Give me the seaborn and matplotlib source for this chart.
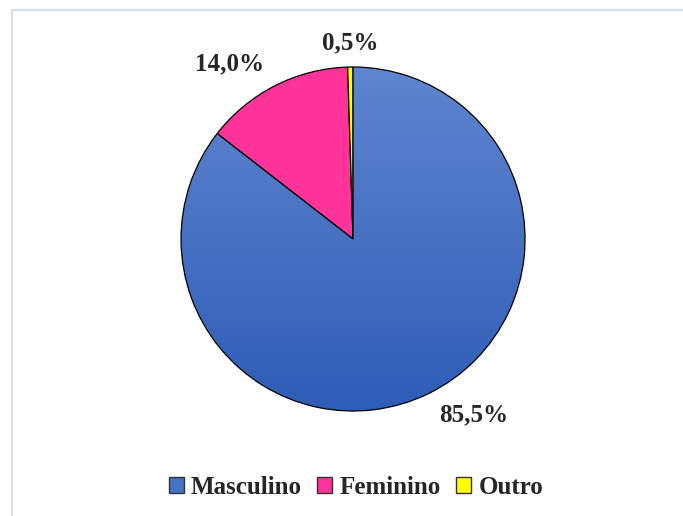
import numpy as np
import matplotlib
matplotlib.use("Agg")
import matplotlib.pyplot as plt
from matplotlib.lines import Line2D
from matplotlib.colors import LinearSegmentedColormap
import seaborn as sns

# data
categories = ["Masculino", "Feminino", "Outro"]
shares = [85.5, 14.0, 0.5]
labels = ["85,5%", "14,0%", "0,5%"]
colors = ["#4472C4", "#FF3399", "#FFFF00"]

sns.set_theme(style="white")
plt.rcParams["font.family"] = ["Liberation Serif", "DejaVu Serif"]

fig = plt.figure(figsize=(6.83, 5.16), dpi=100)
ax = fig.add_axes([0.1769, 0.0868, 0.6800, 0.9])

wedges, _ = ax.pie(shares, colors=colors, startangle=90, counterclock=False,
                   wedgeprops=dict(edgecolor="black", linewidth=0.9))

# gradient fill for the big blue slice
blues = LinearSegmentedColormap.from_list("b", ["#2E5DB6", "#6085D0"])
grad = np.linspace(0, 1, 256).reshape(-1, 1)
img = ax.imshow(grad, cmap=blues, origin="lower", extent=[-1, 1, -1, 1],
                aspect="auto", zorder=wedges[0].get_zorder())
img.set_clip_path(wedges[0])
wedges[0].set_facecolor("none")
wedges[0].set_zorder(img.get_zorder() + 0.1)

# outside-end labels
for w, lab in zip(wedges, labels):
    mid = np.deg2rad((w.theta1 + w.theta2) / 2)
    x, y = 1.14 * np.cos(mid), 1.14 * np.sin(mid)
    if abs(np.cos(mid)) < 0.1:
        ha = "center"
    elif np.cos(mid) > 0:
        ha = "left"
    else:
        ha = "right"
    ax.text(x, y, lab, ha=ha, va="center", fontsize=18, fontweight="bold")

ax.set_xlim(-1.35, 1.35)
ax.set_ylim(-1.35, 1.35)
ax.set_aspect("equal")
ax.axis("off")

handles = [plt.Rectangle((0, 0), 1, 1, facecolor=c, edgecolor="#333333", linewidth=1)
           for c in colors]
fig.legend(handles, categories, loc="center", bbox_to_anchor=(0.521, 0.055), ncol=3,
           frameon=False, handlelength=0.6, handleheight=0.6, handletextpad=0.3,
           columnspacing=0.6, prop=dict(size=18, weight="bold"))

# light frame on left and top
fig.add_artist(Line2D([12 / 683, 12 / 683], [0, 1 - 9.5 / 516], color="#D9DEE8", lw=1.6))
fig.add_artist(Line2D([12 / 683, 1], [1 - 9.5 / 516, 1 - 9.5 / 516], color="#D9DEE8", lw=1.6))

fig.savefig("out.png", dpi=100, facecolor="white")
